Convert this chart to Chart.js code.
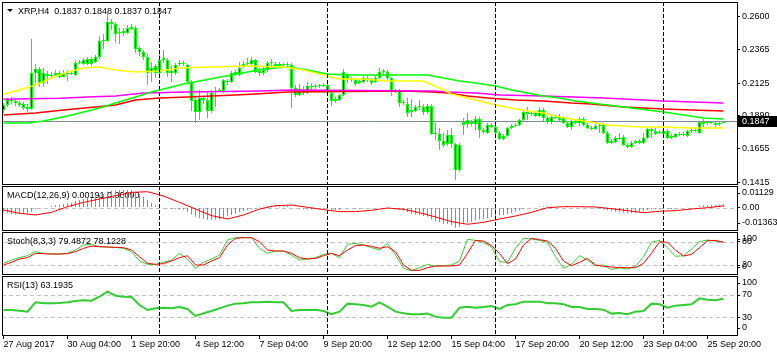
<!DOCTYPE html>
<html><head><meta charset="utf-8">
<script src="https://cdn.jsdelivr.net/npm/chart.js@4/dist/chart.umd.min.js"></script>
<style>
html,body{margin:0;padding:0;background:#fff;}
#wrap{position:relative;width:777px;height:356px;overflow:hidden;background:#fff;}
canvas{position:absolute;left:0;top:0;}
</style></head><body>
<div id="wrap">
<canvas id="cMain" width="777" height="356"></canvas>
<canvas id="cMacd" width="777" height="356"></canvas>
<canvas id="cStoch" width="777" height="356"></canvas>
<canvas id="cRsi" width="777" height="356"></canvas>
</div>
<script>
// ---------------- DATA ----------------
const symbolTitle = 'XRP,H4';
const xTickBars = [0,16,32,48,64,80,96,112,128,144,160,176];
const xTickLabels = ['27 Aug 2017','30 Aug 04:00','1 Sep 20:00','4 Sep 12:00','7 Sep 04:00','9 Sep 20:00','12 Sep 12:00','15 Sep 04:00','17 Sep 20:00','20 Sep 12:00','23 Sep 04:00','25 Sep 20:00'];
const weekStartBars = [39,81,123,165];

const open = [
0.1932,0.1968,0.2004,0.1997,0.1982,0.1975,0.1954,0.1939,0.2198,0.2227,
0.2126,0.2191,0.2176,0.2184,0.2198,0.2169,0.2191,0.2191,0.2184,0.2270,
0.2262,0.2262,0.2298,0.2277,0.2313,0.2428,0.2428,0.2564,0.2550,0.2485,
0.2485,0.2485,0.2514,0.2521,0.2377,0.2349,0.2313,0.2205,0.2248,0.2198,
0.2291,0.2291,0.2198,0.2198,0.2262,0.2270,0.2255,0.2133,0.2004,0.1918,
0.2018,0.2004,0.1925,0.2061,0.2069,0.2069,0.2140,0.2133,0.2191,0.2184,
0.2241,0.2262,0.2262,0.2291,0.2212,0.2198,0.2219,0.2270,0.2262,0.2248,
0.2255,0.2255,0.2255,0.2090,0.2040,0.2076,0.2054,0.2105,0.2097,0.2105,
0.2105,0.2112,0.2054,0.2011,0.2004,0.2040,0.2184,0.2155,0.2148,0.2126,
0.2133,0.2162,0.2148,0.2133,0.2162,0.2205,0.2205,0.2162,0.2069,0.2069,
0.1982,0.1975,0.1918,0.1925,0.1954,0.1954,0.1918,0.1961,0.1760,0.1760,
0.1710,0.1688,0.1753,0.1688,0.1501,0.1825,0.1832,0.1846,0.1832,0.1868,
0.1789,0.1767,0.1825,0.1810,0.1767,0.1724,0.1745,0.1803,0.1817,0.1825,
0.1860,0.1918,0.1903,0.1911,0.1889,0.1932,0.1875,0.1846,0.1882,0.1860,
0.1875,0.1839,0.1810,0.1853,0.1839,0.1868,0.1825,0.1803,0.1796,0.1817,
0.1825,0.1767,0.1695,0.1702,0.1731,0.1738,0.1681,0.1667,0.1695,0.1710,
0.1695,0.1731,0.1796,0.1781,0.1774,0.1760,0.1781,0.1731,0.1738,0.1760,
0.1753,0.1745,0.1781,0.1789,0.1767,0.1846,0.1839,0.1839,0.1839,0.1832,
0.1837];
const high = [
0.1982,0.2018,0.2026,0.2004,0.1997,0.1990,0.1975,0.2442,0.2262,0.2241,
0.2234,0.2212,0.2205,0.2219,0.2212,0.2219,0.2219,0.2212,0.2291,0.2291,
0.2306,0.2313,0.2313,0.2327,0.2464,0.2478,0.2629,0.2586,0.2564,0.2521,
0.2521,0.2542,0.2550,0.2535,0.2392,0.2363,0.2334,0.2277,0.2262,0.2341,
0.2363,0.2306,0.2255,0.2270,0.2291,0.2284,0.2262,0.2148,0.2033,0.2076,
0.2033,0.2061,0.2076,0.2097,0.2090,0.2155,0.2155,0.2212,0.2219,0.2277,
0.2284,0.2306,0.2313,0.2298,0.2234,0.2241,0.2284,0.2298,0.2277,0.2277,
0.2270,0.2277,0.2270,0.2112,0.2119,0.2105,0.2133,0.2126,0.2119,0.2119,
0.2126,0.2119,0.2069,0.2026,0.2047,0.2227,0.2198,0.2169,0.2162,0.2155,
0.2176,0.2176,0.2162,0.2176,0.2234,0.2227,0.2219,0.2169,0.2083,0.2083,
0.2004,0.2018,0.2011,0.1968,0.2004,0.1975,0.1975,0.1975,0.1839,0.1803,
0.1767,0.1789,0.1803,0.1695,0.1695,0.1875,0.1911,0.1860,0.1889,0.1882,
0.1803,0.1839,0.1839,0.1817,0.1781,0.1760,0.1810,0.1832,0.1839,0.1868,
0.1925,0.1954,0.1925,0.1925,0.1954,0.1947,0.1889,0.1896,0.1896,0.1903,
0.1889,0.1853,0.1868,0.1868,0.1882,0.1882,0.1839,0.1817,0.1832,0.1832,
0.1839,0.1781,0.1724,0.1745,0.1767,0.1753,0.1695,0.1710,0.1717,0.1724,
0.1767,0.1803,0.1810,0.1803,0.1789,0.1796,0.1796,0.1760,0.1767,0.1774,
0.1774,0.1789,0.1803,0.1803,0.1853,0.1868,0.1853,0.1853,0.1853,0.1846,
0.1848];
const low = [
0.1911,0.1954,0.1975,0.1961,0.1954,0.1932,0.1918,0.1932,0.2126,0.2097,
0.2097,0.2119,0.2162,0.2176,0.2162,0.2169,0.2140,0.2184,0.2176,0.2262,
0.2255,0.2255,0.2248,0.2270,0.2298,0.2370,0.2420,0.2507,0.2413,0.2406,
0.2464,0.2478,0.2507,0.2341,0.2320,0.2291,0.2112,0.2133,0.2162,0.2162,
0.2270,0.2169,0.2133,0.2184,0.2248,0.2248,0.2126,0.1925,0.1839,0.1860,
0.1975,0.1875,0.1911,0.1954,0.2061,0.2054,0.2112,0.2126,0.2176,0.2176,
0.2234,0.2248,0.2248,0.2198,0.2176,0.2184,0.2205,0.2248,0.2241,0.2241,
0.2241,0.2241,0.1947,0.2026,0.2033,0.2040,0.2047,0.2076,0.2083,0.2090,
0.2097,0.2040,0.1961,0.1982,0.1997,0.2033,0.2126,0.2133,0.2105,0.2119,
0.2126,0.2133,0.2112,0.2126,0.2155,0.2191,0.2148,0.2033,0.2054,0.1954,
0.1968,0.1882,0.1882,0.1918,0.1932,0.1896,0.1903,0.1753,0.1717,0.1645,
0.1667,0.1674,0.1659,0.1430,0.1487,0.1753,0.1803,0.1817,0.1789,0.1731,
0.1760,0.1760,0.1803,0.1760,0.1717,0.1717,0.1738,0.1796,0.1810,0.1817,
0.1853,0.1860,0.1889,0.1882,0.1882,0.1846,0.1832,0.1832,0.1868,0.1853,
0.1832,0.1803,0.1789,0.1832,0.1817,0.1817,0.1796,0.1789,0.1789,0.1767,
0.1760,0.1688,0.1688,0.1695,0.1717,0.1674,0.1659,0.1659,0.1688,0.1688,
0.1688,0.1724,0.1731,0.1753,0.1760,0.1753,0.1724,0.1724,0.1731,0.1745,
0.1745,0.1738,0.1767,0.1774,0.1760,0.1810,0.1825,0.1832,0.1803,0.1817,
0.1837];
const close = [
0.1968,0.2004,0.1997,0.1982,0.1968,0.1947,0.1939,0.2198,0.2227,0.2126,
0.2198,0.2176,0.2184,0.2198,0.2169,0.2191,0.2198,0.2198,0.2270,0.2277,
0.2291,0.2298,0.2262,0.2313,0.2428,0.2435,0.2564,0.2550,0.2478,0.2492,
0.2499,0.2521,0.2528,0.2370,0.2349,0.2313,0.2198,0.2234,0.2198,0.2291,
0.2306,0.2198,0.2212,0.2255,0.2270,0.2262,0.2133,0.1997,0.1918,0.2018,
0.2004,0.1925,0.2054,0.2069,0.2076,0.2148,0.2133,0.2198,0.2205,0.2234,
0.2262,0.2270,0.2291,0.2205,0.2198,0.2219,0.2270,0.2277,0.2248,0.2262,
0.2255,0.2262,0.2090,0.2040,0.2083,0.2054,0.2105,0.2097,0.2105,0.2105,
0.2112,0.2054,0.1997,0.1997,0.2040,0.2205,0.2155,0.2148,0.2119,0.2140,
0.2162,0.2148,0.2126,0.2162,0.2205,0.2212,0.2162,0.2069,0.2066,0.1982,
0.1982,0.1911,0.1932,0.1954,0.1954,0.1918,0.1961,0.1760,0.1767,0.1710,
0.1681,0.1753,0.1688,0.1501,0.1681,0.1846,0.1860,0.1832,0.1868,0.1789,
0.1774,0.1825,0.1810,0.1767,0.1724,0.1745,0.1803,0.1817,0.1825,0.1860,
0.1918,0.1903,0.1911,0.1889,0.1932,0.1875,0.1846,0.1882,0.1875,0.1882,
0.1839,0.1810,0.1853,0.1839,0.1868,0.1825,0.1803,0.1796,0.1817,0.1825,
0.1767,0.1695,0.1710,0.1731,0.1724,0.1681,0.1667,0.1695,0.1710,0.1695,
0.1731,0.1796,0.1781,0.1760,0.1767,0.1781,0.1731,0.1745,0.1760,0.1753,
0.1760,0.1781,0.1789,0.1781,0.1846,0.1832,0.1839,0.1839,0.1825,0.1839,
0.1847];

// moving averages (value at given bar)
const maYellowBars = [0,4,8,12,16,20,24,28,33,39,44,52,61,70,75,81,84,90,96,105,109,112,116,122,128,135,139,145,151,159,165,172,180];
const maYellow = [0.2047,0.2076,0.2112,0.2162,0.2205,0.2234,0.2241,0.2219,0.2205,0.2212,0.2234,0.2241,0.2248,0.2241,0.2219,0.2176,0.2155,0.2155,0.2140,0.2140,0.2090,0.2047,0.2018,0.1975,0.1939,0.1911,0.1882,0.1853,0.1825,0.1810,0.1810,0.1803,0.1803];
const maGreenBars = [0,6,10,16,24,28,33,37,41,45,49,53,57,61,65,71,76,81,86,106,110,114,118,123,127,131,135,139,143,147,151,155,159,165,170,175,180];
const maGreen = [0.1839,0.1839,0.1853,0.1889,0.1947,0.1982,0.2026,0.2061,0.2090,0.2119,0.2140,0.2162,0.2184,0.2205,0.2227,0.2241,0.2219,0.2191,0.2184,0.2184,0.2162,0.2140,0.2126,0.2105,0.2076,0.2054,0.2033,0.2018,0.1997,0.1982,0.1968,0.1954,0.1939,0.1918,0.1896,0.1875,0.1868];
const maMagentaBars = [0,14,21,28,35,46,64,72,107,111,118,124,135,150,165,180];
const maMagenta = [0.2009,0.2016,0.2025,0.2033,0.2054,0.2061,0.2069,0.2076,0.2069,0.2061,0.2054,0.2040,0.2033,0.2018,0.1997,0.1982];
const maRedBars = [0,8,15,23,28,33,39,46,58,63,71,100,107,111,116,121,128,135,142,147,155,160,165,172,180];
const maRed = [0.1896,0.1911,0.1932,0.1954,0.1968,0.2004,0.2018,0.2026,0.2040,0.2047,0.2061,0.2069,0.2061,0.2054,0.2033,0.2018,0.2004,0.1997,0.1982,0.1975,0.1954,0.1947,0.1939,0.1932,0.1925];

const priceTicks = [0.2600,0.2365,0.2125,0.1890,0.1655,0.1415];

// MACD(12,26,9): histogram per bar, signal every 4 bars
const macdParams = [12,26,9];
const macdHist = [
-0.0024,-0.0032,-0.0038,-0.0040,-0.0038,-0.0036,-0.0034,-0.0024,-0.0009,-0.0005,
0.0000,0.0003,0.0009,0.0013,0.0016,0.0020,0.0024,0.0028,0.0038,0.0043,
0.0049,0.0053,0.0055,0.0059,0.0072,0.0078,0.0092,0.0097,0.0099,0.0101,
0.0101,0.0101,0.0101,0.0092,0.0078,0.0063,0.0043,0.0028,0.0014,0.0009,
0.0003,-0.0005,-0.0009,-0.0009,-0.0011,-0.0013,-0.0024,-0.0040,-0.0053,-0.0063,
-0.0067,-0.0072,-0.0072,-0.0070,-0.0067,-0.0059,-0.0051,-0.0043,-0.0036,-0.0028,
-0.0020,-0.0014,-0.0009,-0.0005,0.0001,0.0005,0.0009,0.0011,0.0011,0.0011,
0.0011,0.0009,0.0003,-0.0005,-0.0009,-0.0011,-0.0011,-0.0011,-0.0009,-0.0009,
-0.0007,-0.0009,-0.0013,-0.0014,-0.0014,-0.0005,-0.0005,-0.0005,-0.0007,-0.0007,
-0.0005,-0.0005,-0.0005,-0.0003,0.0001,0.0003,0.0001,-0.0005,-0.0007,-0.0013,
-0.0018,-0.0028,-0.0036,-0.0040,-0.0043,-0.0049,-0.0053,-0.0069,-0.0078,-0.0086,
-0.0094,-0.0097,-0.0101,-0.0117,-0.0113,-0.0097,-0.0090,-0.0082,-0.0074,-0.0070,
-0.0067,-0.0061,-0.0055,-0.0051,-0.0047,-0.0043,-0.0038,-0.0032,-0.0024,-0.0018,
-0.0011,-0.0003,0.0001,0.0003,0.0007,0.0007,0.0007,0.0005,0.0005,0.0003,
0.0003,0.0001,0.0003,0.0003,0.0003,0.0001,-0.0001,-0.0003,-0.0005,-0.0005,
-0.0009,-0.0016,-0.0022,-0.0024,-0.0024,-0.0030,-0.0034,-0.0034,-0.0032,-0.0028,
-0.0022,-0.0014,-0.0011,-0.0009,-0.0009,-0.0007,-0.0009,-0.0009,-0.0007,-0.0005,
-0.0003,0.0001,0.0003,0.0005,0.0011,0.0013,0.0013,0.0014,0.0014,0.0016,
0.00191];
const macdSignalStep = 4;
const macdSignal = [
-0.00145,-0.00338,-0.00434,-0.0028,0.00048,0.00299,0.00492,0.00685,0.00878,0.00917,
0.00666,0.00299,-0.00087,-0.00473,-0.00666,-0.00434,-0.00087,0.00106,0.00145,0.0001,
-0.00125,-0.00241,-0.00241,-0.00164,-0.00029,-0.00106,-0.00299,-0.0055,-0.0082,-0.00975,
-0.0086,-0.00666,-0.00492,-0.0028,-0.0001,0.00048,0.00048,0.00029,-0.00068,-0.00183,
-0.00299,-0.00222,-0.00183,-0.00087,-0.0001,0.0009];
const macdTicks = [0.01129,0,-0.01363];
const macdTickLabels = ['0.01129','0.00','-0.01363'];

// Stochastic(8,3,3), every 2 bars
const stochParams = [8,3,3];
const stochStep = 2;
const stochK = [
24.3,32.9,38.9,44.0,54.3,50.0,48.3,48.3,50.0,58.6,
71.4,73.1,67.1,66.3,65.4,62.9,54.3,30.3,21.7,21.7,
26.9,32.9,50.0,35.4,11.4,26.9,35.4,45.7,84.3,90.3,
90.3,90.3,62.9,50.0,56.0,56.0,45.7,32.9,35.4,38.9,
47.4,50.0,38.9,73.1,75.7,71.4,64.6,58.6,75.7,45.7,
11.4,5.4,13.1,21.7,16.6,18.3,20.0,30.3,86.0,83.4,
78.3,66.3,28.6,26.9,62.9,88.6,86.9,83.4,78.3,41.4,
11.4,21.7,44.0,32.9,18.3,20.0,8.0,13.1,9.7,16.6,
41.4,78.3,83.4,64.6,42.3,44.0,61.1,80.0,84.3,81.7,
79.4872];
const stochD = [
20.0,26.9,35.4,38.9,50.0,49.1,48.3,48.3,49.1,54.3,
62.9,68.9,67.1,66.3,65.4,64.6,58.6,41.4,24.3,21.7,
23.4,30.3,38.9,44.0,20.0,20.0,30.3,38.9,71.4,88.6,
90.3,90.3,80.0,58.6,56.0,56.0,50.0,38.9,35.4,37.1,
44.0,50.0,44.0,58.6,69.7,71.4,68.0,62.9,67.1,54.3,
20.0,6.3,6.3,13.1,17.4,17.4,17.4,20.0,50.0,83.4,
81.7,69.7,50.0,23.4,35.4,71.4,88.6,85.1,81.7,62.9,
30.3,18.3,26.9,37.1,20.0,16.6,14.9,13.1,13.1,13.1,
24.3,50.0,80.0,78.3,58.6,43.1,47.4,64.6,82.6,83.4,
78.1228];
const stochLevels = [80,20];
const stochTicks = [100,80,20,0];
const stochTickLabels = ['100','80','20','0'];

// RSI(13), every 2 bars
const rsiPeriod = 13;
const rsiStep = 2;
const rsi = [
43.1,43.1,41.9,40.1,56.9,55.1,55.1,55.7,56.9,59.3,
60.4,59.9,67.0,76.0,68.8,67.0,66.4,52.1,43.1,46.1,
47.3,46.1,48.5,44.9,32.4,37.2,41.3,46.1,50.9,54.5,
55.1,56.9,56.9,58.1,56.9,56.9,41.3,43.1,43.1,43.7,
41.3,35.4,40.1,54.5,53.3,52.1,49.1,56.9,49.1,40.1,
37.2,35.4,35.4,36.6,31.2,29.4,29.4,47.3,49.1,47.3,
48.5,50.3,44.9,52.1,53.3,58.1,58.1,58.1,55.1,55.1,
53.3,48.5,48.5,44.9,44.9,43.7,36.6,37.8,35.4,40.1,
41.3,54.5,53.3,47.3,50.9,52.1,53.3,64.0,61.6,60.4,
63.1935];
const rsiLevels = [70,30];
const rsiTicks = [100,70,30,0];
const rsiTickLabels = ['100','70','30','0'];

// ---------------- LAYOUT ----------------
const FONT = '"Liberation Sans", Arial, sans-serif';
Chart.defaults.font.family = FONT;
Chart.defaults.font.size = 9;
Chart.defaults.color = '#000';
const W = 777, H = 356, AXIS_X = 737;
const X_MIN = -0.375, X_MAX = 183.375;
const PANELS = {main:[2,184], macd:[186,230], stoch:[232,274], rsi:[276,335]};
const GREEN = '#00ff00', IND_GREEN = '#32cd32';

function noPad(s){ s.paddingTop = 0; s.paddingBottom = 0; s.paddingLeft = 0; s.paddingRight = 0; }
function xAxis(show){
  const ax = {type:'linear', min:X_MIN, max:X_MAX, offset:false, display:show,
    grid:{display:false}, border:{display:false}, ticks:{display:false}, afterFit: noPad};
  if (show){
    ax.afterBuildTicks = s => { s.ticks = xTickBars.map(v => ({value:v})); };
    ax.afterFit = s => { s.height = H - PANELS.rsi[1]; noPad(s); };
    ax.ticks = {display:true, autoSkip:false, maxRotation:0, minRotation:0, align:'start', padding:0,
      color:'#000', font:{family:FONT,size:9}, callback:(v,i)=>xTickLabels[i]};
    ax.grid = {display:true, drawOnChartArea:false, drawTicks:true, tickLength:4, color:'#000', lineWidth:1};
  }
  return ax;
}
function yAxis(min, max, values, labels, clamp){
  return {type:'linear', position:'right', min, max,
    afterBuildTicks: s => {
      s.ticks = values.map(v => ({value:v}));
      if (clamp) s.getPixelForTick = function(i){
        const t = this.ticks[i]; if (!t) return null;
        const p = this.getPixelForValue(t.value);
        return Math.min(Math.max(p, this.top + 7), this.bottom - 7);
      };
    },
    afterFit: s => { s.width = W - AXIS_X; noPad(s); },
    ticks:{autoSkip:false, padding:2, color:'#000', font:{family:FONT,size:9}, callback:(v,i)=>labels[i]},
    grid:{display:true, drawOnChartArea:false, drawTicks:true, tickLength:3, color:'#000', lineWidth:1},
    border:{display:false}};
}
function decor(cfg){
  return {
    id:'decor',
    beforeDatasetsDraw(chart){
      const {ctx, chartArea:a} = chart; const y = chart.scales.y;
      ctx.save();
      ctx.lineWidth = 1;
      (cfg.levels || []).forEach(v => {
        const py = Math.round(y.getPixelForValue(v)) + 0.5;
        ctx.strokeStyle = '#c0c0c0'; ctx.setLineDash([4,3]);
        ctx.beginPath(); ctx.moveTo(a.left, py); ctx.lineTo(a.right, py); ctx.stroke();
      });
      if (cfg.priceLine != null){
        const py = Math.floor(y.getPixelForValue(cfg.priceLine)) + 0.5;
        ctx.setLineDash([]); ctx.strokeStyle = '#7f8a94';
        ctx.beginPath(); ctx.moveTo(a.left, py); ctx.lineTo(a.right, py); ctx.stroke();
      }
      ctx.setLineDash([]);
      ctx.fillStyle = '#000'; ctx.font = '9px ' + FONT; ctx.textBaseline = 'alphabetic'; ctx.textAlign = 'left';
      ctx.fillText(cfg.title, cfg.titleX, cfg.titleY);
      if (cfg.triangle){
        ctx.beginPath(); ctx.moveTo(7, 9); ctx.lineTo(13, 9); ctx.lineTo(10, 12); ctx.closePath(); ctx.fill();
      }
      ctx.restore();
    },
    afterDatasetsDraw(chart){
      const {ctx, chartArea:a} = chart; const x = chart.scales.x;
      ctx.save();
      ctx.lineWidth = 1; ctx.strokeStyle = '#000'; ctx.setLineDash([4,2]);
      weekStartBars.forEach(b => {
        const px = Math.floor(x.getPixelForValue(b)) + 0.5;
        ctx.beginPath(); ctx.moveTo(px, a.top); ctx.lineTo(px, a.bottom); ctx.stroke();
      });
      ctx.setLineDash([]);
      ctx.strokeRect(a.left + 0.5, a.top + 0.5, a.right - a.left, a.bottom - a.top);
      ctx.restore();
    },
    afterDraw(chart){
      if (cfg.priceLine == null) return;
      const {ctx} = chart; const y = chart.scales.y;
      const py = Math.floor(y.getPixelForValue(cfg.priceLine));
      ctx.save();
      ctx.fillStyle = '#000'; ctx.fillRect(AXIS_X + 1, py - 5, W - AXIS_X - 1, 11);
      ctx.fillStyle = '#fff'; ctx.font = '9px ' + FONT; ctx.textBaseline = 'middle'; ctx.textAlign = 'left';
      ctx.fillText(cfg.priceLine.toFixed(4), 742, py + 0.5);
      ctx.restore();
    }
  };
}
function baseOptions(panel, showX){
  return {responsive:false, animation:false, devicePixelRatio:1, events:[],
    layout:{autoPadding:false, padding:{left:2, right:0, top:panel[0], bottom: showX ? 0 : H - panel[1]}},
    plugins:{legend:{display:false}, tooltip:{enabled:false}, title:{display:false}}};
}
function pts(bars, vals){ return bars.map((b,k)=>({x:b, y:vals[k]})); }
function stepPts(step, vals){ return vals.map((v,k)=>({x:k*step, y:v})); }
const bars = close.map((_,i)=>i);
const last = close.length - 1;

// ---------------- MAIN ----------------
const pMain = PANELS.main;
const mainMax = 0.2722 - 0.000718*pMain[0], mainMin = 0.2722 - 0.000718*pMain[1];
const optMain = baseOptions(pMain, false);
optMain.scales = {x:xAxis(false), y:yAxis(mainMin, mainMax, priceTicks, priceTicks.map(v=>v.toFixed(4)), false)};
new Chart(document.getElementById('cMain'), {
  type:'bar',
  data:{datasets:[
    {type:'line', data:pts(maYellowBars, maYellow), borderColor:'#ffff00', borderWidth:1.5, pointRadius:0, tension:0},
    {type:'line', data:pts(maGreenBars, maGreen), borderColor:'#00ff00', borderWidth:1.5, pointRadius:0, tension:0},
    {type:'line', data:pts(maMagentaBars, maMagenta), borderColor:'#ff00ff', borderWidth:1.5, pointRadius:0, tension:0},
    {type:'line', data:pts(maRedBars, maRed), borderColor:'#ff0000', borderWidth:1.5, pointRadius:0, tension:0},
    {type:'bar', data:bars.map(i=>({x:i, y:[Math.min(open[i],close[i]), Math.max(open[i],close[i])]})),
      barThickness:3, grouped:false, backgroundColor:bars.map(i=> close[i] >= open[i] ? '#000000' : '#ff0000'),
      borderColor:GREEN, borderWidth:1, borderSkipped:false, minBarLength:1, inflateAmount:0},
    {type:'bar', data:bars.map(i=>({x:i, y:[low[i], high[i]]})),
      barThickness:1, grouped:false, backgroundColor:GREEN, borderWidth:0, inflateAmount:0}
  ]},
  options:optMain,
  plugins:[decor({priceLine:close[last], title: symbolTitle + '  ' + [open[last],high[last],low[last],close[last]].map(v=>v.toFixed(4)).join(' '),
    titleX:18, titleY:14, triangle:true})]
});

// ---------------- MACD ----------------
const pMacd = PANELS.macd;
const MACD_PX = 0.00058, MACD_ZERO = 207.5;
const optMacd = baseOptions(pMacd, false);
optMacd.scales = {x:xAxis(false), y:yAxis(-(pMacd[1]-MACD_ZERO)*MACD_PX, (MACD_ZERO-pMacd[0])*MACD_PX, macdTicks, macdTickLabels, true)};
new Chart(document.getElementById('cMacd'), {
  type:'bar',
  data:{datasets:[
    {type:'line', data:stepPts(macdSignalStep, macdSignal), borderColor:'#ff0000', borderWidth:1, pointRadius:0, tension:0},
    {type:'bar', data:bars.map(i=>({x:i, y:macdHist[i]})), barThickness:1, grouped:false, backgroundColor:IND_GREEN, borderWidth:0, inflateAmount:0}
  ]},
  options:optMacd,
  plugins:[decor({levels:[0], title:'MACD(' + macdParams.join(',') + ') ' + macdHist[last].toFixed(5) + ' ' + macdSignal[macdSignal.length-1].toFixed(5), titleX:7, titleY:198})]
});

// ---------------- STOCH ----------------
const pSt = PANELS.stoch;
const ST_PX = (265 - 241.7) / 60;
const optSt = baseOptions(pSt, false);
optSt.scales = {x:xAxis(false), y:yAxis(20 - (pSt[1]-265)/ST_PX, 80 + (241.7-pSt[0])/ST_PX, stochTicks, stochTickLabels, true)};
new Chart(document.getElementById('cStoch'), {
  type:'line',
  data:{datasets:[
    {data:stepPts(stochStep, stochD), borderColor:'#ff0000', borderWidth:1, pointRadius:0, tension:0},
    {data:stepPts(stochStep, stochK), borderColor:IND_GREEN, borderWidth:1, pointRadius:0, tension:0}
  ]},
  options:optSt,
  plugins:[decor({levels:stochLevels, title:'Stoch(' + stochParams.join(',') + ') ' + stochK[stochK.length-1].toFixed(4) + ' ' + stochD[stochD.length-1].toFixed(4), titleX:7, titleY:244})]
});

// ---------------- RSI ----------------
const pR = PANELS.rsi;
const R_PX = (317.3 - 295) / 40;
const optR = baseOptions(pR, true);
optR.scales = {x:xAxis(true), y:yAxis(30 - (pR[1]-317.3)/R_PX, 70 + (295-pR[0])/R_PX, rsiTicks, rsiTickLabels, true)};
new Chart(document.getElementById('cRsi'), {
  type:'line',
  data:{datasets:[
    {data:stepPts(rsiStep, rsi), borderColor:IND_GREEN, borderWidth:2, pointRadius:0, tension:0}
  ]},
  options:optR,
  plugins:[decor({levels:rsiLevels, title:'RSI(' + rsiPeriod + ') ' + rsi[rsi.length-1].toFixed(4), titleX:7, titleY:288})]
});
</script>
</body></html>
